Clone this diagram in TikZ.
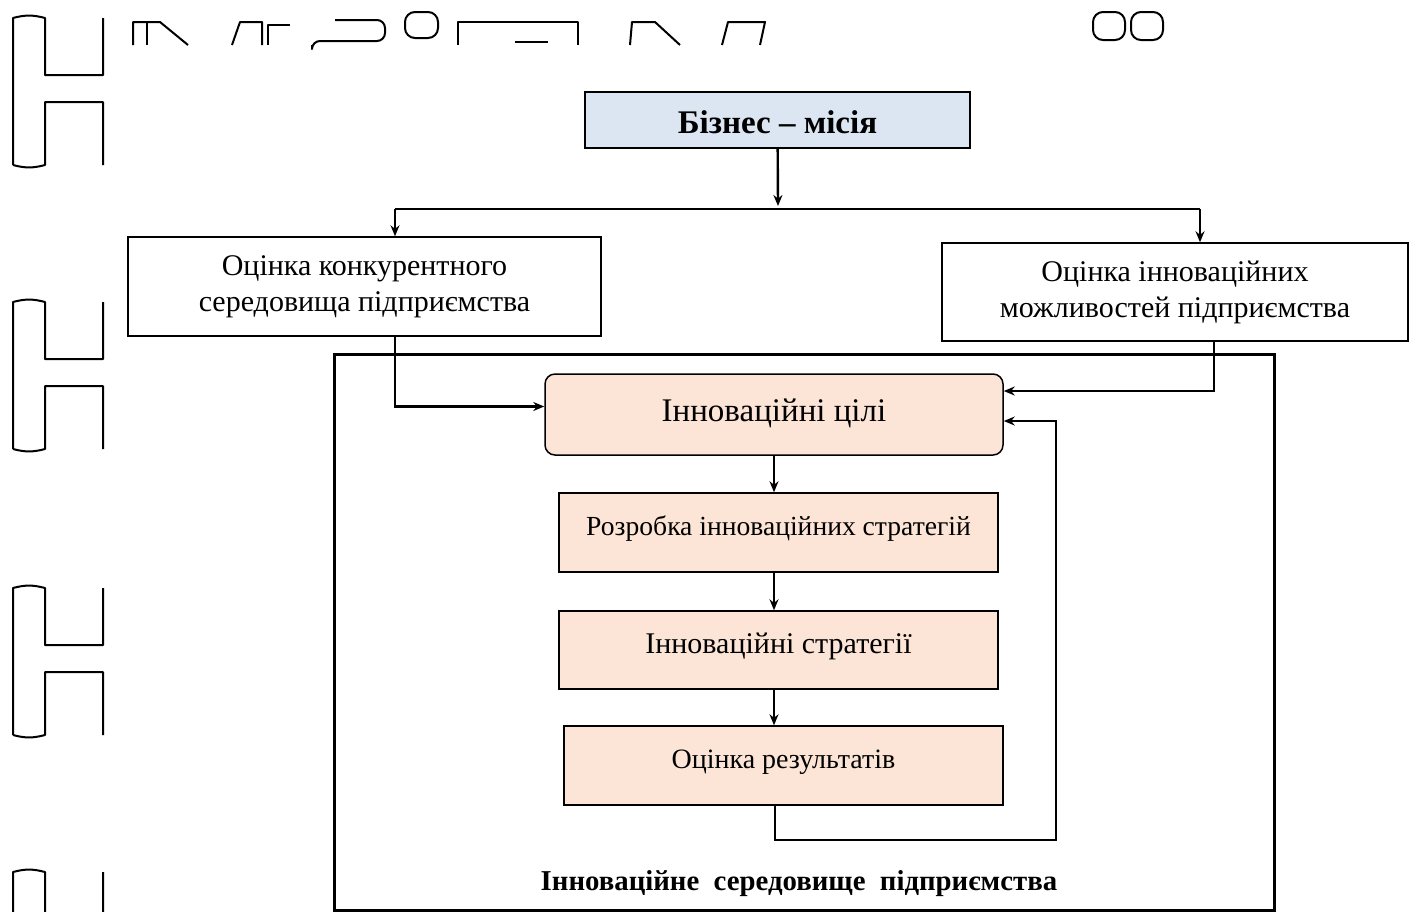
\documentclass[tikz,border=0pt]{standalone}
\usepackage{fontspec}
\setmainfont{Liberation Serif}
\usepackage{tikz}
\usetikzlibrary{arrows.meta,calc,positioning}
\definecolor{missionblue}{RGB}{220,230,242}
\definecolor{peach}{RGB}{252,229,214}

\begin{document}
\begin{tikzpicture}[x=0.5pt,y=-0.5pt,font=\fontsize{15}{18}\selectfont,>={Stealth[length=5.5pt,width=4.5pt]}]
    \tikzstyle{plainbox}=[draw,line width=0.75pt,align=center,inner sep=2pt]
    \tikzstyle{stagebox}=[plainbox,fill=peach,text depth=7pt]
    \tikzstyle{link}=[line width=0.75pt]
    \tikzstyle{scrap}=[line width=1pt,line join=round]
    \useasboundingbox (0,0) rectangle (1416,911);
    \begin{scope}
      \clip (0,0) rectangle (1416,911);
      \foreach \t in {18,302,588,872}{
        \draw[scrap] (13,\t+147) -- (13,\t) to[bend left=15] (45,\t) -- (45,\t+57) -- (103,\t+57) -- (103,\t);
        \draw[scrap] (103,\t+147) -- (103,\t+84) -- (45,\t+84) -- (45,\t+147) to[bend left=15] (13,\t+147);
      }
      \draw[scrap] (133,45) -- (133,22) -- (160,22) -- (188,45);
      \draw[scrap] (147,22) -- (147,45);
      \draw[scrap] (232,45) -- (240,22) -- (262,22) -- (262,45);
      \draw[scrap] (268,45) -- (268,25) -- (290,25);
      \draw[scrap,rounded corners=4pt] (335,20) -- (385,20) -- (385,41) -- (312,41) -- (312,45);
      \draw[scrap,rounded corners=5pt] (405,12) rectangle (438,38);
      \draw[scrap] (458,45) -- (458,22) -- (578,22) -- (578,45);
      \draw[scrap] (515,42) -- (548,42);
      \draw[scrap] (630,45) -- (632,22) -- (655,22) -- (680,45);
      \draw[scrap] (722,45) -- (728,22) -- (765,22) -- (760,45);
      \draw[scrap,rounded corners=5pt] (1093,12) rectangle (1125,40);
      \draw[scrap,rounded corners=5pt] (1131,12) rectangle (1163,40);
    \end{scope}
    \node[plainbox,fill=missionblue,minimum width=192.5pt,minimum height=28pt,text height=17pt,text depth=3.5pt,font=\fontsize{16.5}{18}\selectfont\bfseries] (mission) at (777.5,120) {Бізнес – місія};
    \node[plainbox,minimum width=236.5pt,minimum height=49.5pt] (conc) at (364.5,286.5) {Оцінка конкурентного\\середовища підприємства};
    \node[plainbox,minimum width=233pt,minimum height=49pt] (innov) at (1175,292) {Оцінка інноваційних\\можливостей підприємства};
    \node[draw,line width=1.5pt,minimum width=470pt,minimum height=278pt] (env) at (804,632) {};
    \node[font=\fontsize{14.4}{18}\selectfont\bfseries] (envlabel) at (799,884) {Інноваційне\ \ середовище\ \ підприємства};
    \node[stagebox,rounded corners=5pt,minimum width=229pt,minimum height=40.5pt,text depth=4pt,font=\fontsize{16.5}{18}\selectfont] (goals) at (774,414.5) {Інноваційні цілі};
    \node[stagebox,minimum width=219.5pt,minimum height=39.5pt,font=\fontsize{13.8}{18}\selectfont] (dev) at (778.5,532.5) {Розробка інноваційних стратегій};
    \node[stagebox,minimum width=219.5pt,minimum height=39pt] (strat) at (778.5,650) {Інноваційні стратегії};
    \node[stagebox,minimum width=219.5pt,minimum height=39.5pt,text depth=6pt,font=\fontsize{14}{18}\selectfont] (eval) at (783.5,765.5) {Оцінка результатів};
    \coordinate (split) at (778,206);
    \coordinate (ldrop) at (395,209);
    \coordinate (rdrop) at (1200,209);
    \coordinate (rdown) at (1214,341);
    \coordinate (loop) at (1056,840);
    \draw[link,line width=1.2pt,->] (mission) -- (split);
    \draw[link] (ldrop) -- (rdrop);
    \draw[link,->] (ldrop) -- (ldrop |- conc.north);
    \draw[link,->] (rdrop) -- (rdrop |- innov.north);
    \draw[link,line width=1.1pt,->] (ldrop |- conc.south) |- ([yshift=4pt]goals.west);
    \draw[link,line width=1.1pt,->] (rdown) |- ([yshift=11.75pt]goals.east);
    \draw[link,->] ([xshift=-4.25pt]eval.south) |- (loop) |- ([yshift=-3.25pt]goals.east);
    \draw[link,->] (goals.south) -- (goals.south |- dev.north);
    \draw[link,->] (goals.south |- dev.south) -- (goals.south |- strat.north);
    \draw[link,->] (goals.south |- strat.south) -- (goals.south |- eval.north);
  \end{tikzpicture}
\end{document}
